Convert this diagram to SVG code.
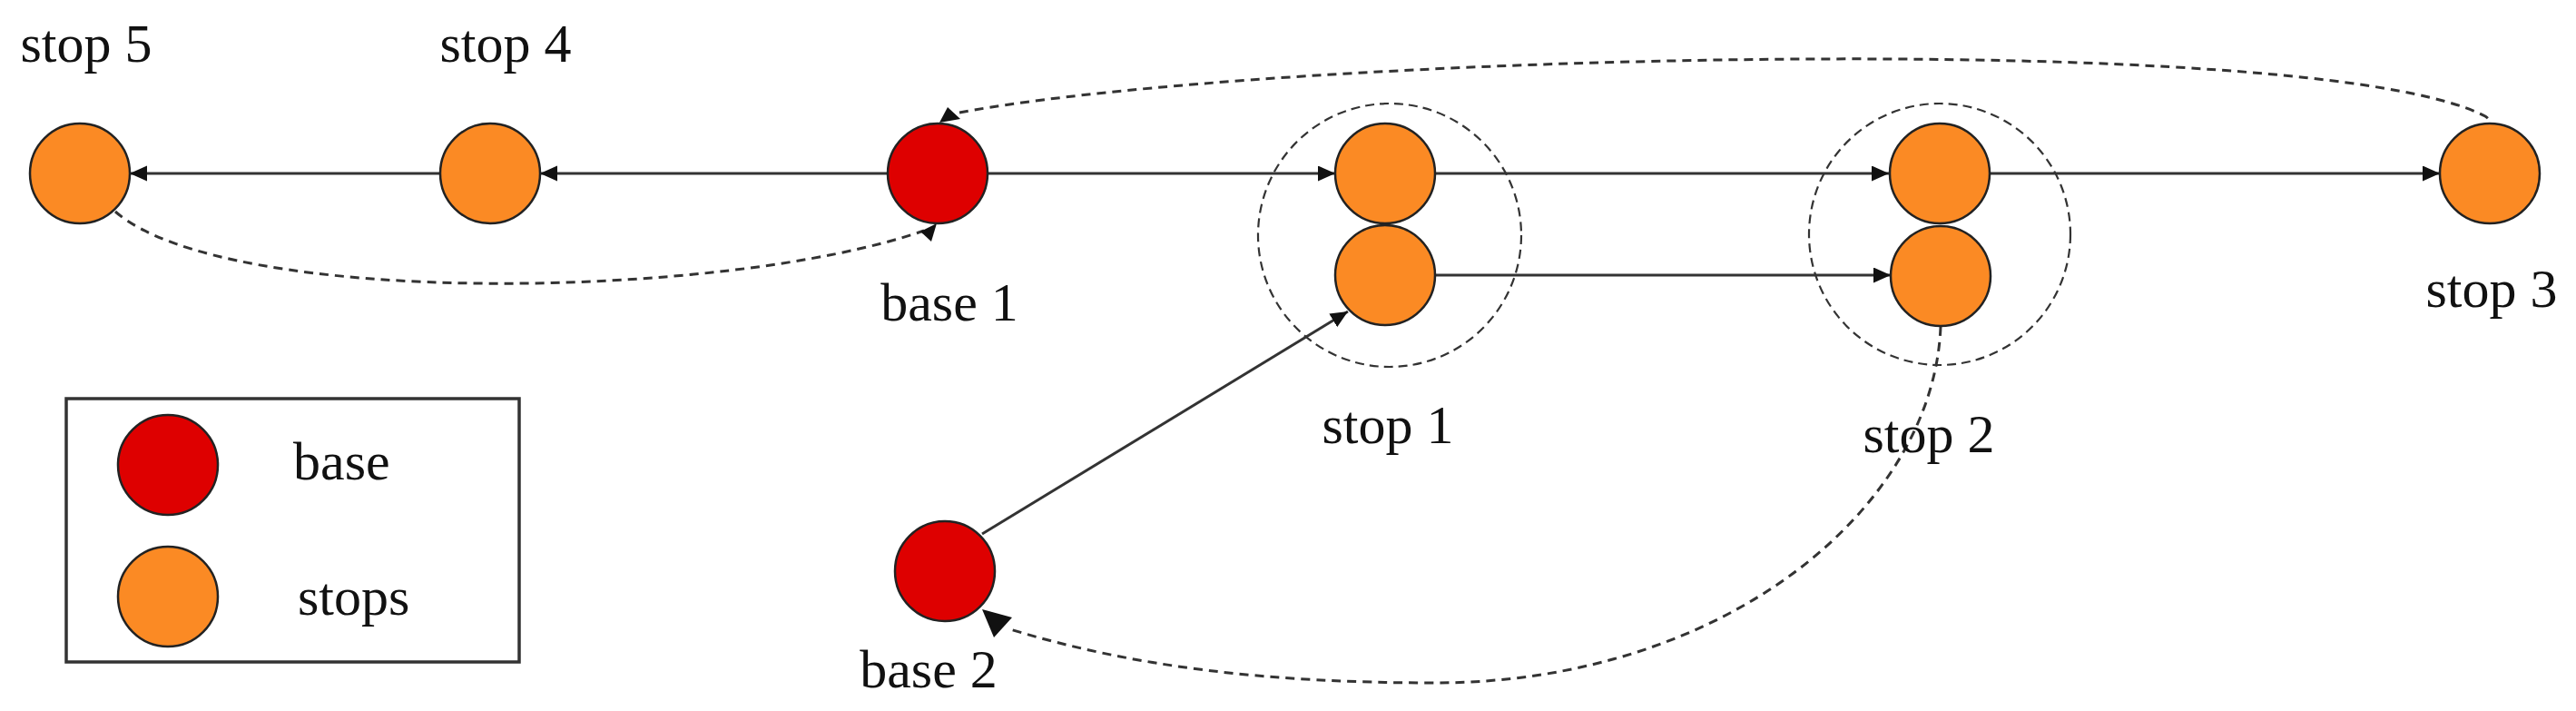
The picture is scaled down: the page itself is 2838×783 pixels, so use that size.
<svg xmlns="http://www.w3.org/2000/svg" width="2838" height="783" viewBox="0 0 2838 783">
<style>
.stop{fill:#FB8A24;stroke:#222;stroke-width:2.5}
.base{fill:#DE0000;stroke:#222;stroke-width:2.5}
.lbl{font-family:"Liberation Serif","Times New Roman",serif;font-size:60px;fill:#111}
.solid{stroke:#333;stroke-width:3;fill:none}
.dash{stroke:#333;stroke-width:3;fill:none;stroke-dasharray:10 7}
.group{stroke:#333;stroke-width:2.2;fill:none;stroke-dasharray:10 6}
.head{fill:#111}
</style>
<defs>
<marker id="arr" markerUnits="userSpaceOnUse" markerWidth="20" markerHeight="18" refX="19" refY="8.5" orient="auto">
<path d="M0,0 L19,8.5 L0,17 Z" fill="#111"/>
</marker>
</defs>
<rect width="2838" height="783" fill="#fff"/>
<g id="legend">
<rect x="73" y="439" width="499" height="290" fill="none" stroke="#333" stroke-width="3.5"/>
<circle class="base" cx="185" cy="512" r="55"/>
<circle class="stop" cx="185" cy="657" r="55"/>
<text class="lbl" x="323" y="528">base</text>
<text class="lbl" x="328" y="677">stops</text>
</g>
<g id="groups">
<circle class="group" cx="1531" cy="259" r="145"/>
<circle class="group" cx="2137" cy="258" r="144"/>
</g>
<g id="connectors">
<line class="solid" x1="978" y1="191" x2="595" y2="191" marker-end="url(#arr)"/>
<line class="solid" x1="485" y1="191" x2="143" y2="191" marker-end="url(#arr)"/>
<line class="solid" x1="1088" y1="191" x2="1471" y2="191" marker-end="url(#arr)"/>
<line class="solid" x1="1581" y1="191" x2="2081" y2="191" marker-end="url(#arr)"/>
<line class="solid" x1="2192" y1="191" x2="2688" y2="191" marker-end="url(#arr)"/>
<line class="solid" x1="1581" y1="303" x2="2083" y2="303" marker-end="url(#arr)"/>
<line class="solid" x1="1082" y1="588" x2="1485" y2="343" marker-end="url(#arr)"/>
<path class="dash" d="M1057,124 C1400,60 2550,30 2738,128 Q2744,132 2743,136"/>
<polygon class="head" points="1044,118 1035,135 1058,131"/>
<path class="dash" d="M127,233 C250,340 800,330 1018,254"/>
<polygon class="head" points="1014,255 1032,246 1026,266"/>
<path class="dash" d="M2138,360 C2130,560 1900,752 1580,752 C1400,752 1250,735 1113,693"/>
<polygon class="head" points="1082,671 1115,680 1095,702"/>
</g>
<g id="stop5"><circle class="stop" cx="88" cy="191" r="55"/><text class="lbl" x="95" y="68" text-anchor="middle">stop 5</text></g>
<g id="stop4"><circle class="stop" cx="540" cy="191" r="55"/><text class="lbl" x="557" y="68" text-anchor="middle">stop 4</text></g>
<g id="base1"><circle class="base" cx="1033" cy="191" r="55"/><text class="lbl" x="1046" y="353" text-anchor="middle">base 1</text></g>
<g id="stop1"><circle class="stop" cx="1526" cy="191" r="55"/><circle class="stop" cx="1526" cy="303" r="55"/><text class="lbl" x="1529" y="488" text-anchor="middle">stop 1</text></g>
<g id="stop2"><circle class="stop" cx="2137" cy="191" r="55"/><circle class="stop" cx="2138" cy="304" r="55"/><text class="lbl" x="2125" y="498" text-anchor="middle">stop 2</text></g>
<g id="stop3"><circle class="stop" cx="2743" cy="191" r="55"/><text class="lbl" x="2745" y="338" text-anchor="middle">stop 3</text></g>
<g id="base2"><circle class="base" cx="1041" cy="629" r="55"/><text class="lbl" x="1023" y="757" text-anchor="middle">base 2</text></g>
</svg>
